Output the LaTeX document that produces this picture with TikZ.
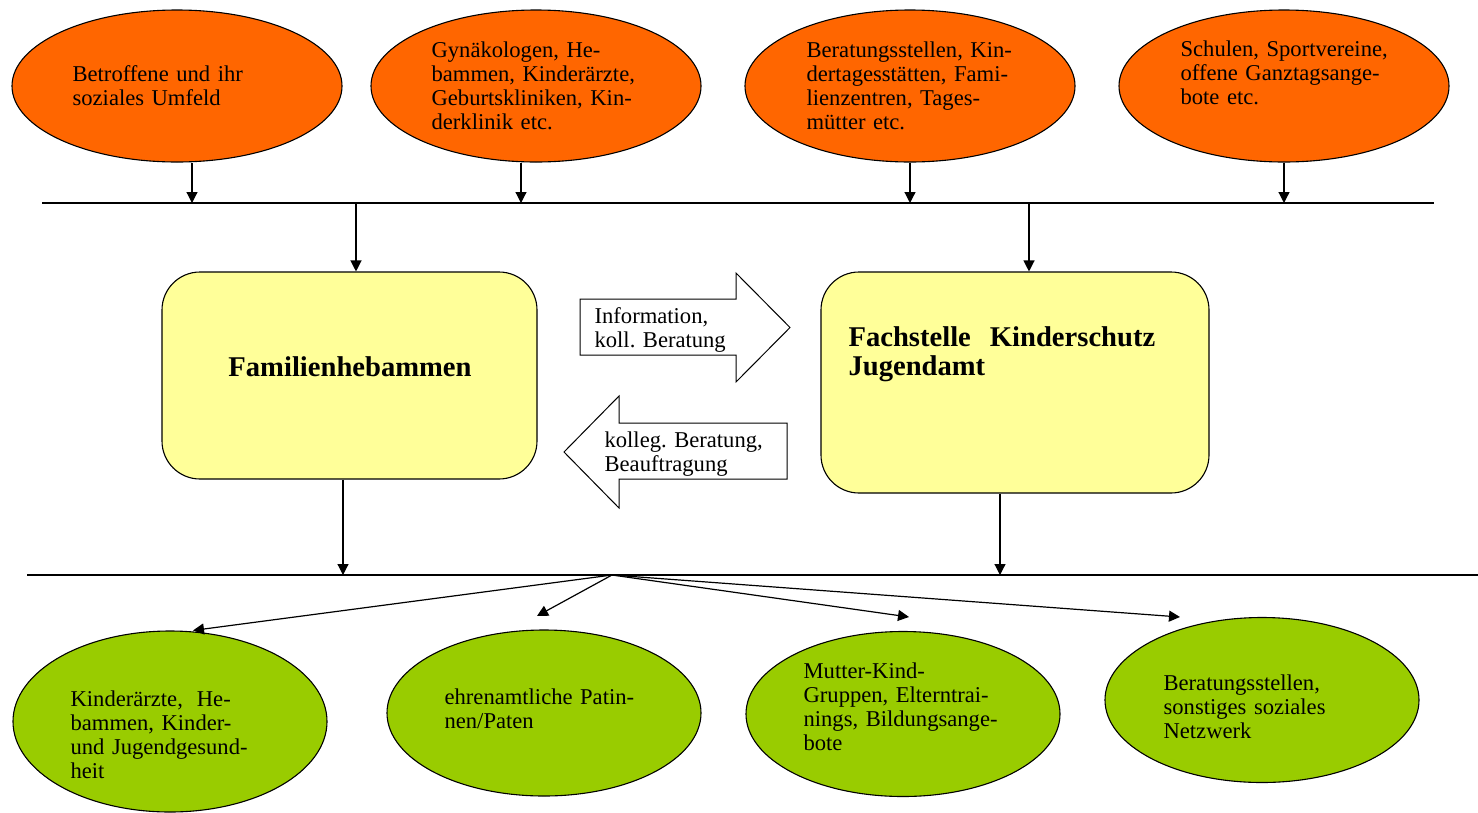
\documentclass[tikz,border=0pt]{standalone}
\usepackage{fontspec}
\setmainfont{Liberation Serif}
\usetikzlibrary{arrows.meta,shapes.geometric}
\definecolor{orng}{HTML}{FF6600}
\definecolor{grn}{HTML}{99CC00}
\definecolor{ylw}{HTML}{FFFF99}
\frenchspacing
\begin{document}
\begin{tikzpicture}[x=1pt,y=-1pt,line width=1.2pt,
  ell/.style={draw=black,ellipse,inner sep=0pt,line width=1.1pt},
  topell/.style={ell,fill=orng,minimum width=330pt,minimum height=152pt},
  botell/.style={ell,fill=grn,minimum width=314pt},
  box/.style={draw=black,fill=ylw,rounded corners=38pt,inner sep=0pt,line width=1.1pt},
  txt/.style={anchor=base west,inner sep=0pt,align=left,text width=320pt,
    font=\fontsize{22.6}{24.3}\selectfont\frenchspacing},
  btxt/.style={inner sep=0pt,align=left,font=\fontsize{28.6}{29}\selectfont\bfseries},
  arr/.style={-{Triangle[length=11pt,width=11pt]}},
  blk/.style={draw=black,fill=white,line width=1pt,line join=miter}]
\useasboundingbox (0,0) rectangle (1478,812);

% top ellipses
\node[topell] (o1) at (177,86) {};
\node[topell] (o2) at (536,86) {};
\node[topell] (o3) at (910,86) {};
\node[topell] (o4) at (1284,86) {};
\node[txt] (to1) at (72,81) {Betroffene und ihr\\soziales Umfeld};
\node[txt] (to2) at (431,57) {Gynäkologen, He-\\bammen, Kinderärzte,\\Geburtskliniken, Kin-\\derklinik etc.};
\node[txt] (to3) at (806,57) {Beratungsstellen, Kin-\\dertagesstätten, Fami-\\lienzentren, Tages-\\mütter etc.};
\node[txt] (to4) at (1180,56) {Schulen, Sportvereine,\\offene Ganztagsange-\\bote etc.};

% top line
\coordinate (la) at (42,203);
\coordinate (lb) at (1434,203);
\draw (la) -- (lb);
\coordinate (t1) at (192,203);
\coordinate (t2) at (521,203);
\coordinate (t3) at (910,203);
\coordinate (t4) at (1284,203);
\draw[arr] (t1 |- o1.south) -- (t1);
\draw[arr] (t2 |- o2.south) -- (t2);
\draw[arr] (t3 |- o3.south) -- (t3);
\draw[arr] (t4 |- o4.south) -- (t4);

% boxes
\node[box,minimum width=375pt,minimum height=207pt] (b1) at (349.5,375.5) {};
\node[box,minimum width=388pt,minimum height=221pt] (b2) at (1015,382.5) {};
\node[btxt,anchor=base] (tb1) at (350,376) {Familienhebammen};
\node[btxt,anchor=north west,text width=340pt] (tb2) at (848,326) {Fachstelle\ \ Kinderschutz\\Jugendamt};

\coordinate (d1) at (356,203);
\coordinate (d2) at (1029,203);
\draw[arr] (d1) -- (d1 |- b1.north);
\draw[arr] (d2) -- (d2 |- b2.north);

% block arrows
\draw[blk] (580,299) -- (736,299) -- (736,273) -- (790,327.5) -- (736,382) -- (736,355) -- (580,355) -- cycle;
\draw[blk] (787,423) -- (619,423) -- (619,396) -- (564,452) -- (619,508) -- (619,479) -- (787,479) -- cycle;
\node[txt] (ti) at (594,323) {Information,\\koll. Beratung};
\node[txt] (tk) at (604,447) {kolleg. Beratung,\\Beauftragung};

% bottom line
\coordinate (ma) at (27,575);
\coordinate (mb) at (1478,575);
\draw (ma) -- (mb);
\coordinate (u1) at (343,575);
\coordinate (u2) at (1000,575);
\draw[arr] (u1 |- b1.south) -- (u1);
\draw[arr] (u2 |- b2.south) -- (u2);

% bottom ellipses
\node[botell,minimum height=181pt] (g1) at (170,721.5) {};
\node[botell,minimum height=166pt] (g2) at (544,713) {};
\node[botell,minimum height=165pt] (g3) at (903,714) {};
\node[botell,minimum height=165pt] (g4) at (1262,700) {};
\node[txt] (tg1) at (70,706) {Kinderärzte,\hspace{14pt}He-\\bammen, Kinder-\\und Jugendgesund-\\heit};
\node[txt] (tg2) at (444,704) {ehrenamtliche Patin-\\nen/Paten};
\node[txt] (tg3) at (803,678) {Mutter-Kind-\\Gruppen, Elterntrai-\\nings, Bildungsange-\\bote};
\node[txt] (tg4) at (1163,690) {Beratungsstellen,\\sonstiges soziales\\Netzwerk};

% fan
\coordinate (f0) at (612,575);
\coordinate (f2) at (537,616);
\coordinate (f3) at (909,617);
\coordinate (f4) at (1180,617);
\draw[arr] (f0) -- (g1.north -| 193,0);
\draw[arr] (f0) -- (f2);
\draw[arr] (f0) -- (f3);
\draw[arr] (f0) -- (f4);
\end{tikzpicture}
\end{document}
